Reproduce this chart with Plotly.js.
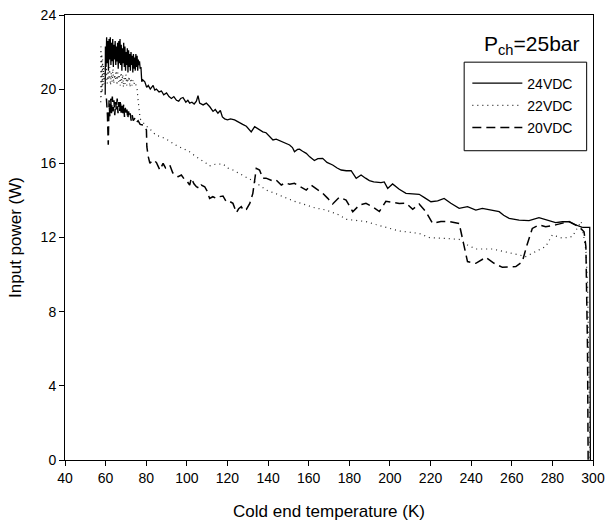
<!DOCTYPE html>
<html>
<head>
<meta charset="utf-8">
<script src="https://cdn.plot.ly/plotly-3.0.1.min.js"></script>
<style>
  html, body { margin: 0; padding: 0; background: #fff; }
  #chart { width: 606px; height: 531px; }
</style>
</head>
<body>
<div id="chart"></div>
<script>
// Input power vs. cold end temperature at P_ch = 25 bar, three drive voltages.

const seriesNames = ['24VDC', '22VDC', '20VDC'];

// 24 VDC
const temp24 = [
  59.8, 59.9, 60.2, 60.5, 60.8, 61.1, 61.4, 61.7, 62.0, 62.3, 62.6, 62.9, 63.2, 63.5, 63.8,
  64.1, 64.4, 64.7, 65.0, 65.3, 65.6, 65.9, 66.2, 66.5, 66.8, 67.1, 67.4, 67.7, 68.0, 68.3,
  68.6, 68.9, 69.2, 69.5, 69.8, 70.1, 70.4, 70.7, 71.0, 71.3, 71.6, 71.9, 72.2, 72.5, 72.8,
  73.1, 73.4, 73.7, 74.0, 74.3, 74.6, 74.9, 75.2, 75.5, 75.8, 76.1, 76.4, 76.7, 77.0, 77.4,
  77.8, 78.3, 79.3, 80.2, 81.0, 82.0, 83.4, 84.2, 85.0, 86.3, 87.5, 88.6, 90.0, 91.2, 92.4,
  93.6, 94.9, 96.0, 97.0, 98.1, 99.5, 100.5, 101.4, 102.5, 103.6, 104.7, 105.5, 106.3, 107.2, 108.0,
  109.6, 111.3, 112.9, 114.0, 115.3, 116.5, 117.5, 118.6, 120.0, 121.5, 123.5, 125.0, 126.0, 127.5, 129.3,
  130.5, 131.7, 133.4, 135.0, 137.4, 139.0, 140.5, 142.4, 144.0, 146.5, 148.5, 150.6, 152.0, 153.0, 154.5,
  155.5, 157.0, 158.8, 160.5, 162.8, 164.5, 166.9, 169.0, 171.8, 174.0, 176.0, 178.5, 180.9, 183.4, 185.8,
  188.0, 189.9, 192.0, 195.6, 197.2, 198.9, 201.3, 204.6, 207.9, 211.0, 214.4, 217.0, 220.2, 223.5, 226.7,
  230.0, 234.1, 238.2, 242.3, 245.5, 250.0, 253.8, 256.0, 258.7, 263.6, 268.5, 273.4, 277.0, 281.6, 285.0,
  288.2, 291.0, 294.7, 298.4, 298.6, 298.7
];
const power24 = [
  19.7, 22.3, 21.2, 22.8, 21.4, 22.6, 21.0, 22.7, 21.6, 22.8, 21.3, 22.5, 21.5, 22.7, 21.2,
  22.4, 21.6, 22.6, 21.3, 22.3, 21.5, 22.5, 21.1, 22.6, 21.4, 22.7, 21.3, 22.4, 21.0, 22.2,
  21.4, 22.5, 21.2, 22.3, 21.0, 22.0, 21.3, 22.2, 20.9, 22.1, 21.2, 21.9, 21.0, 22.0, 21.3,
  21.8, 20.9, 21.9, 21.1, 21.7, 21.0, 21.9, 21.2, 21.8, 21.0, 21.6, 21.3, 21.5, 21.1, 21.2,
  20.4, 20.5, 20.4, 20.1, 20.2, 20.0, 20.2, 19.95, 20.0, 19.85, 19.9, 19.7, 19.8, 19.6, 19.5,
  19.6, 19.4, 19.35, 19.5, 19.55, 19.3, 19.4, 19.25, 19.3, 19.2, 19.35, 19.65, 19.25, 19.2, 19.15,
  19.25, 19.05, 18.8, 18.9, 18.7, 18.85, 18.5, 18.4, 18.35, 18.4, 18.34, 18.25, 18.15, 18.1, 18.0,
  17.85, 17.7, 17.98, 17.85, 17.7, 17.65, 17.5, 17.26, 17.3, 17.17, 17.1, 16.99, 16.85, 16.63, 16.75,
  16.76, 16.65, 16.54, 16.35, 16.15, 16.25, 16.27, 16.05, 15.91, 15.75, 15.64, 15.6, 15.6, 15.19, 15.37,
  15.2, 15.07, 15.0, 14.96, 15.0, 14.65, 14.89, 14.6, 14.38, 14.36, 14.33, 14.15, 13.93, 13.97, 14.11,
  13.85, 13.57, 13.66, 13.48, 13.57, 13.45, 13.39, 13.2, 13.03, 12.94, 12.91, 13.07, 12.95, 12.8, 12.85,
  12.85, 12.7, 12.55, 12.55, 6.0, 0.0
];

// 22 VDC
const temp22 = [
  57.6, 57.7, 57.9, 58.1, 58.3, 58.5, 58.7, 59.0, 59.3, 59.6, 60.0, 60.4, 60.8, 61.2, 61.6,
  62.0, 62.4, 62.8, 63.2, 63.6, 64.0, 64.4, 64.8, 65.2, 65.6, 66.0, 66.4, 66.8, 67.2, 67.6,
  68.0, 68.4, 68.8, 69.2, 69.6, 70.0, 70.4, 70.8, 71.2, 71.6, 72.0, 72.5, 73.0, 73.5, 74.0,
  74.5, 75.0, 75.5, 76.0, 76.4, 77.0, 78.5, 80.0, 81.5, 83.0, 85.0, 87.0, 90.0, 92.5, 95.0,
  98.0, 101.0, 104.0, 107.0, 109.6, 111.2, 114.0, 117.8, 120.0, 122.7, 126.0, 129.3, 133.4, 136.0, 139.1,
  143.0, 148.9, 153.0, 158.8, 163.0, 168.6, 172.0, 175.1, 178.4, 183.0, 188.2, 193.0, 198.0, 202.0, 204.6,
  207.9, 214.4, 219.3, 225.9, 234.1, 238.2, 242.3, 250.5, 257.0, 263.6, 266.9, 271.8, 276.7, 280.0, 285.0,
  289.8, 293.1, 294.2, 296.5, 297.3, 298.0, 298.5
];
const power22 = [
  19.3, 22.3, 19.6, 21.9, 19.8, 21.6, 20.2, 21.3, 20.3, 21.1, 20.4, 21.2, 20.3, 21.0, 20.5,
  21.2, 20.2, 20.9, 20.4, 21.1, 20.3, 20.8, 20.5, 21.0, 20.2, 20.9, 20.4, 20.7, 20.2, 20.9,
  20.3, 20.8, 20.1, 20.7, 20.3, 20.8, 20.2, 20.6, 20.4, 20.7, 20.1, 20.6, 20.2, 20.5, 20.3,
  20.4, 20.1, 20.0, 19.4, 18.9, 18.4, 18.2, 18.0, 17.9, 17.7, 17.5, 17.45, 17.3, 17.1, 16.95,
  16.8, 16.65, 16.4, 16.2, 16.0, 15.86, 15.95, 15.97, 15.75, 15.64, 15.45, 15.28, 15.0, 14.8, 14.56,
  14.4, 14.11, 13.95, 13.75, 13.6, 13.48, 13.35, 13.21, 12.98, 12.92, 12.86, 12.7, 12.55, 12.45, 12.35,
  12.31, 12.22, 12.0, 11.95, 11.9, 11.6, 11.38, 11.38, 11.24, 11.06, 10.97, 11.24, 11.51, 12.14, 11.96,
  12.05, 12.68, 12.86, 11.33, 9.53, 5.0, 0.0
];

// 20 VDC
const temp20 = [
  60.4, 60.9, 61.3, 61.7, 62.1, 62.5, 62.9, 63.3, 63.7, 64.1, 64.5, 64.9, 65.3, 65.7, 66.1,
  66.5, 66.9, 67.3, 67.7, 68.1, 68.5, 68.9, 69.3, 69.7, 70.1, 70.5, 70.9, 71.3, 71.7, 72.1,
  72.6, 73.1, 73.6, 74.4, 75.2, 76.0, 77.0, 78.5, 80.1, 80.3, 81.0, 81.8, 83.4, 85.0, 86.7,
  88.3, 89.5, 90.7, 91.6, 93.0, 94.0, 95.7, 97.3, 99.0, 100.3, 101.4, 102.2, 103.5, 104.7, 106.3,
  107.1, 108.8, 110.0, 111.2, 112.8, 114.5, 116.0, 117.8, 119.4, 121.0, 122.7, 124.4, 125.5, 126.8, 128.0,
  129.3, 131.0, 132.5, 133.5, 134.2, 135.8, 137.4, 139.0, 140.7, 142.3, 144.0, 146.5, 148.5, 150.6, 153.0,
  155.5, 158.8, 161.2, 163.0, 164.5, 167.0, 169.4, 171.8, 175.1, 178.4, 181.7, 185.0, 188.2, 191.5, 194.8,
  198.0, 201.3, 204.6, 208.0, 211.2, 214.4, 217.7, 221.0, 225.1, 229.2, 234.1, 236.0, 238.2, 242.3, 247.2,
  251.3, 255.4, 262.0, 265.2, 267.5, 270.1, 273.4, 276.7, 281.6, 288.2, 293.1, 295.6, 296.5, 297.3, 297.6
];
const power20 = [
  19.5, 18.6, 17.0, 19.4, 18.5, 19.5, 18.7, 19.6, 18.8, 19.4, 18.6, 19.3, 18.9, 19.5, 18.7,
  19.3, 18.8, 19.4, 18.6, 19.1, 18.7, 19.2, 18.5, 19.0, 18.6, 18.9, 18.4, 18.8, 18.5, 18.7,
  18.3, 18.6, 18.3, 18.43, 18.2, 18.3, 18.1, 18.07, 17.8, 16.9, 16.36, 16.0, 16.18, 16.05, 15.64,
  16.0, 15.75, 15.82, 15.91, 15.5, 15.37, 15.28, 15.37, 15.1, 15.0, 14.83, 15.2, 14.9, 14.74, 14.65,
  14.83, 14.74, 14.5, 14.11, 14.2, 14.11, 14.2, 14.24, 13.93, 13.95, 13.84, 13.34, 13.55, 13.66, 13.45,
  13.52, 13.84, 14.38, 15.2, 15.73, 15.64, 15.19, 15.2, 15.1, 15.05, 15.1, 14.83, 14.95, 14.87, 14.92,
  14.78, 14.56, 14.83, 14.7, 14.56, 14.38, 14.11, 13.81, 14.17, 14.02, 13.39, 13.75, 13.84, 13.66, 13.4,
  13.95, 13.9, 13.84, 13.85, 13.52, 13.81, 13.39, 12.76, 12.86, 12.86, 12.76, 11.8, 10.7, 10.61, 10.93,
  10.61, 10.39, 10.43, 10.7, 11.6, 12.49, 12.68, 12.58, 12.68, 12.86, 12.58, 12.31, 11.51, 6.0, 0.0
];

const xTicks = [40, 60, 80, 100, 120, 140, 160, 180, 200, 220, 240, 260, 280, 300];
const yTicks = [0, 4, 8, 12, 16, 20, 24];

const FONT = '"Liberation Sans", Arial, sans-serif';

const traces = [
  {
    x: temp24, y: power24, name: seriesNames[0], legendgroup: 'a',
    type: 'scatter', mode: 'lines',
    line: { color: '#000', width: 1.3 }
  },
  {
    x: temp22, y: power22, name: seriesNames[1], legendgroup: 'b',
    type: 'scatter', mode: 'lines',
    line: { color: '#222', width: 1.2, dash: '1px,4px' }
  },
  {
    x: temp20, y: power20, name: seriesNames[2], legendgroup: 'c',
    type: 'scatter', mode: 'lines',
    line: { color: '#000', width: 1.5, dash: '9px,5px' }
  }
];

const axisCommon = {
  showgrid: false, zeroline: false,
  showline: true, linecolor: '#000', linewidth: 1, mirror: true,
  ticks: 'outside', ticklen: 5, tickcolor: '#000', tickwidth: 1,
  tickfont: { family: FONT, size: 14, color: '#000' }
};

const layout = {
  width: 606, height: 531,
  margin: { l: 65, r: 13, t: 15, b: 71 },
  paper_bgcolor: '#fff', plot_bgcolor: '#fff',
  font: { family: FONT, color: '#000' },
  showlegend: true,
  xaxis: Object.assign({}, axisCommon, {
    range: [40, 300], tickvals: xTicks, ticktext: xTicks.map(String),
    title: { text: 'Cold end temperature (K)', font: { family: FONT, size: 17 }, standoff: 20 }
  }),
  yaxis: Object.assign({}, axisCommon, {
    range: [0, 24], tickvals: yTicks, ticktext: yTicks.map(String),
    title: { text: 'Input power (W)', font: { family: FONT, size: 17 }, standoff: 14 }
  }),
  legend: {
    x: 0.762, y: 0.882, xanchor: 'left', yanchor: 'top',
    bgcolor: 'rgba(255,255,255,0)', borderwidth: 0,
    font: { family: FONT, size: 14 },
    itemwidth: 50,
    tracegroupgap: 1
  },
  shapes: [
    {
      type: 'rect', xref: 'paper', yref: 'paper',
      x0: 0.756, x1: 0.988, y0: 0.695, y1: 0.894,
      line: { color: '#000', width: 1 }, fillcolor: 'rgba(0,0,0,0)'
    }
  ],
  annotations: [
    {
      xref: 'paper', yref: 'paper', x: 0.885, y: 0.933,
      xanchor: 'center', yanchor: 'middle', showarrow: false,
      text: 'P<sub>ch</sub>=25bar',
      font: { family: FONT, size: 21, color: '#000' }
    }
  ]
};

Plotly.newPlot('chart', traces, layout, { displayModeBar: false, staticPlot: true });
</script>
</body>
</html>
